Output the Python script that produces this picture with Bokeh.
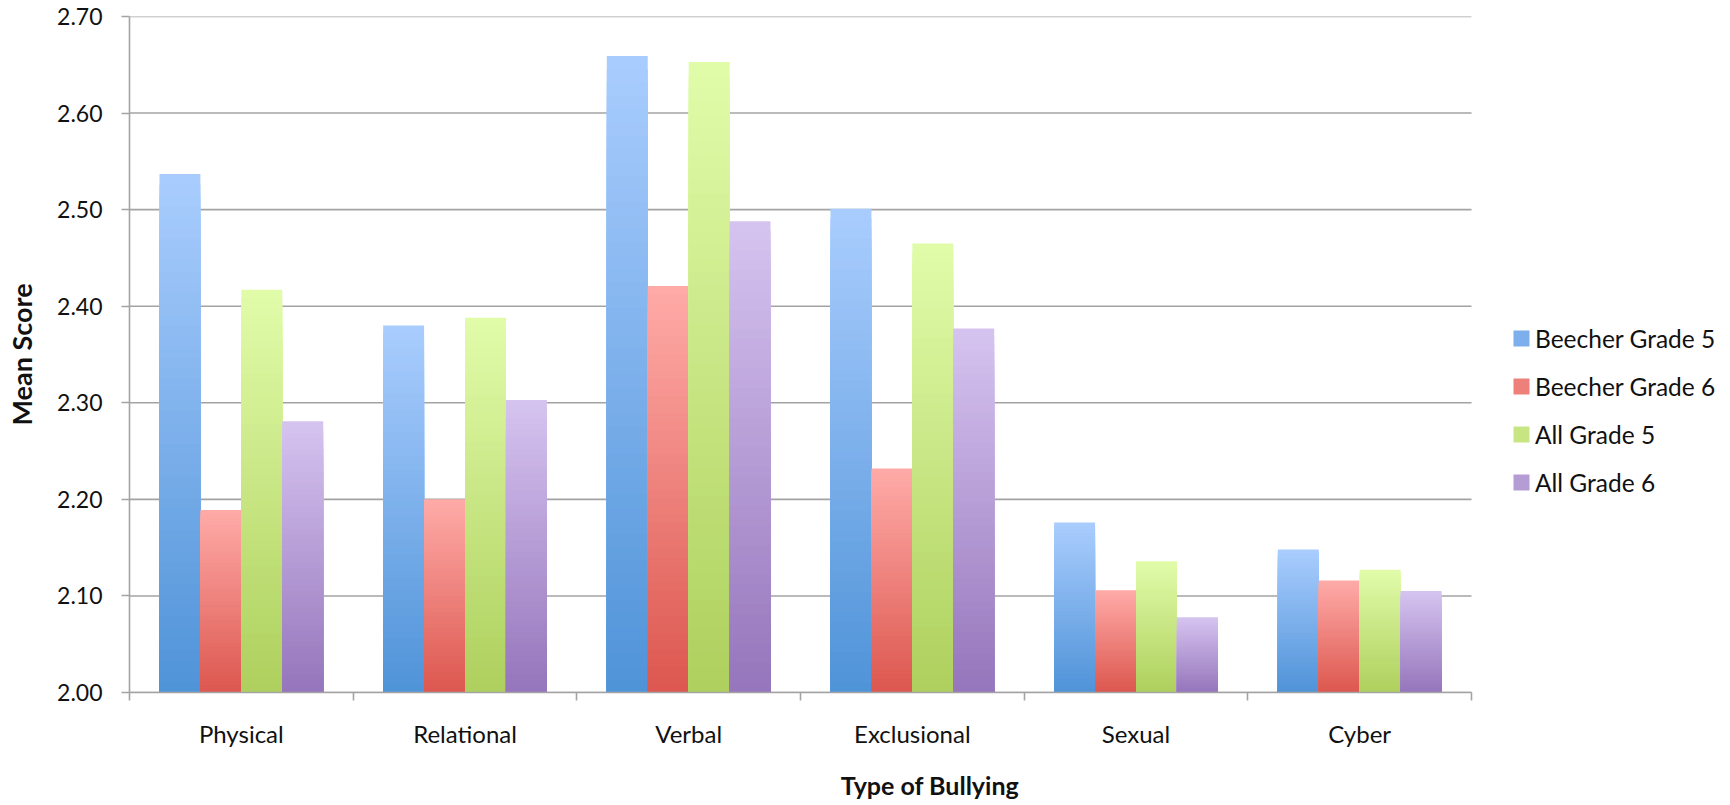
import numpy as np
from bokeh.plotting import figure
from bokeh.models import (ColumnDataSource, Range1d, FixedTicker, Legend, LegendItem,
                          NumeralTickFormatter)
from bokeh.embed import file_html
from bokeh.resources import INLINE

# ---------------- data ----------------
categories = ["Physical", "Relational", "Verbal", "Exclusional", "Sexual", "Cyber"]
series_names = ["Beecher Grade 5", "Beecher Grade 6", "All Grade 5", "All Grade 6"]
beecher_grade5 = [2.537, 2.380, 2.659, 2.501, 2.176, 2.148]
beecher_grade6 = [2.189, 2.200, 2.421, 2.232, 2.106, 2.116]
all_grade5 = [2.417, 2.388, 2.653, 2.465, 2.136, 2.127]
all_grade6 = [2.281, 2.303, 2.488, 2.377, 2.078, 2.105]
y_ticks = [2.00, 2.10, 2.20, 2.30, 2.40, 2.50, 2.60, 2.70]

series_values = [beecher_grade5, beecher_grade6, all_grade5, all_grade6]

# ---------------- style / layout ----------------
top_colors = ["#aacdfe", "#ffaba8", "#e1fcaa", "#d6c4f0"]
bottom_colors = ["#4f93d8", "#dc574f", "#aed05d", "#9575bb"]
FONT = "Lato"
TEXT_COLOR = "#111111"
AXIS_COLOR = "#a3a3a3"
BAR_W = 0.183
N_SLICES = 48
BASE = y_ticks[0]
W, H = 1730, 805
LEFT, TOP, BOTTOM = 129, 16, 113
PLOT_W = 1342                      # width of the category area in px
N_CAT = len(categories)
X_END = N_CAT * (W - LEFT) / PLOT_W  # frame also hosts the legend on the right


def hex2rgb(h):
    h = h.lstrip("#")
    return np.array([int(h[i:i + 2], 16) for i in (0, 2, 4)], dtype=float)


def mix(c_bottom, c_top, t):
    a, b = hex2rgb(c_bottom), hex2rgb(c_top)
    c = a + (b - a) * t
    return "#%02x%02x%02x" % tuple(int(round(v)) for v in c)


p = figure(width=W, height=H, output_backend="svg", toolbar_location=None,
           x_range=Range1d(0, X_END), y_range=Range1d(y_ticks[0], y_ticks[-1]),
           min_border_left=LEFT, min_border_right=0, min_border_top=TOP,
           min_border_bottom=BOTTOM)
p.outline_line_color = None
p.background_fill_color = "white"
p.border_fill_color = "white"
p.xgrid.visible = False
p.ygrid.visible = False

# horizontal gridlines over the category area only
p.segment(x0=0, x1=N_CAT, y0=y_ticks, y1=y_ticks, line_color=AXIS_COLOR,
          line_width=1.6)

renderers = []
for j, (vals, ctop, cbot) in enumerate(zip(series_values, top_colors, bottom_colors)):
    xs, tops, cols = [], [], []
    for i, v in enumerate(vals):
        xc = i + 0.5 + (j - 1.5) * BAR_W
        for k in range(N_SLICES):
            frac = (N_SLICES - k) / N_SLICES
            xs.append(xc)
            tops.append(BASE + (v - BASE) * frac)
            cols.append(mix(cbot, ctop, frac - 0.5 / N_SLICES))
    src = ColumnDataSource(dict(x=xs, top=tops, color=cols))
    r = p.vbar(x="x", top="top", bottom=BASE, width=BAR_W, source=src,
               fill_color="color", line_color=None)
    renderers.append(r)

# ---------------- axes ----------------
p.yaxis.ticker = FixedTicker(ticks=y_ticks)
p.yaxis.formatter = NumeralTickFormatter(format="0.00")
p.yaxis.axis_label = "Mean Score"
p.xaxis.axis_label = "Type of Bullying"

centers = [i + 0.5 for i in range(N_CAT)]
bounds = [float(i) for i in range(N_CAT + 1)]
p.xaxis.ticker = FixedTicker(ticks=centers, minor_ticks=bounds)
p.xaxis.major_label_overrides = {c: name for c, name in zip(centers, categories)}
p.xaxis.bounds = (0, N_CAT)

for ax in (p.xaxis[0], p.yaxis[0]):
    ax.axis_line_color = AXIS_COLOR
    ax.axis_line_width = 1.6
    ax.major_tick_line_color = AXIS_COLOR
    ax.major_tick_line_width = 1.6
    ax.minor_tick_line_color = AXIS_COLOR
    ax.minor_tick_line_width = 1.6
    ax.major_label_text_font = FONT
    ax.major_label_text_color = TEXT_COLOR
    ax.axis_label_text_font = FONT
    ax.axis_label_text_font_style = "bold"
    ax.axis_label_text_color = TEXT_COLOR

p.xaxis.major_label_text_font_size = "24px"
p.yaxis.major_label_text_font_size = "23px"
p.xaxis.axis_label_text_font_size = "25px"
p.yaxis.axis_label_text_font_size = "27px"

p.yaxis.major_tick_in = 0
p.yaxis.major_tick_out = 8
p.yaxis.minor_tick_in = 0
p.yaxis.minor_tick_out = 0
p.yaxis.major_label_standoff = 19
p.yaxis.axis_label_standoff = 16

p.xaxis.major_tick_in = 0
p.xaxis.major_tick_out = 0
p.xaxis.minor_tick_in = 0
p.xaxis.minor_tick_out = 8
p.xaxis.major_label_standoff = 18
p.xaxis.axis_label_standoff = 19

# ---------------- legend ----------------
items = [LegendItem(label=name, renderers=[r], index=N_SLICES // 2)
         for name, r in zip(series_names, renderers)]
legend = Legend(items=items, location=(1382, 195), padding=0, margin=0,
                glyph_width=20, glyph_height=20, label_standoff=4,
                label_height=30, spacing=18,
                label_text_font=FONT, label_text_font_size="24.5px",
                label_text_color=TEXT_COLOR,
                border_line_color=None, background_fill_alpha=0)
p.add_layout(legend, "center")

open("out.html", "w").write(file_html(p, INLINE))
